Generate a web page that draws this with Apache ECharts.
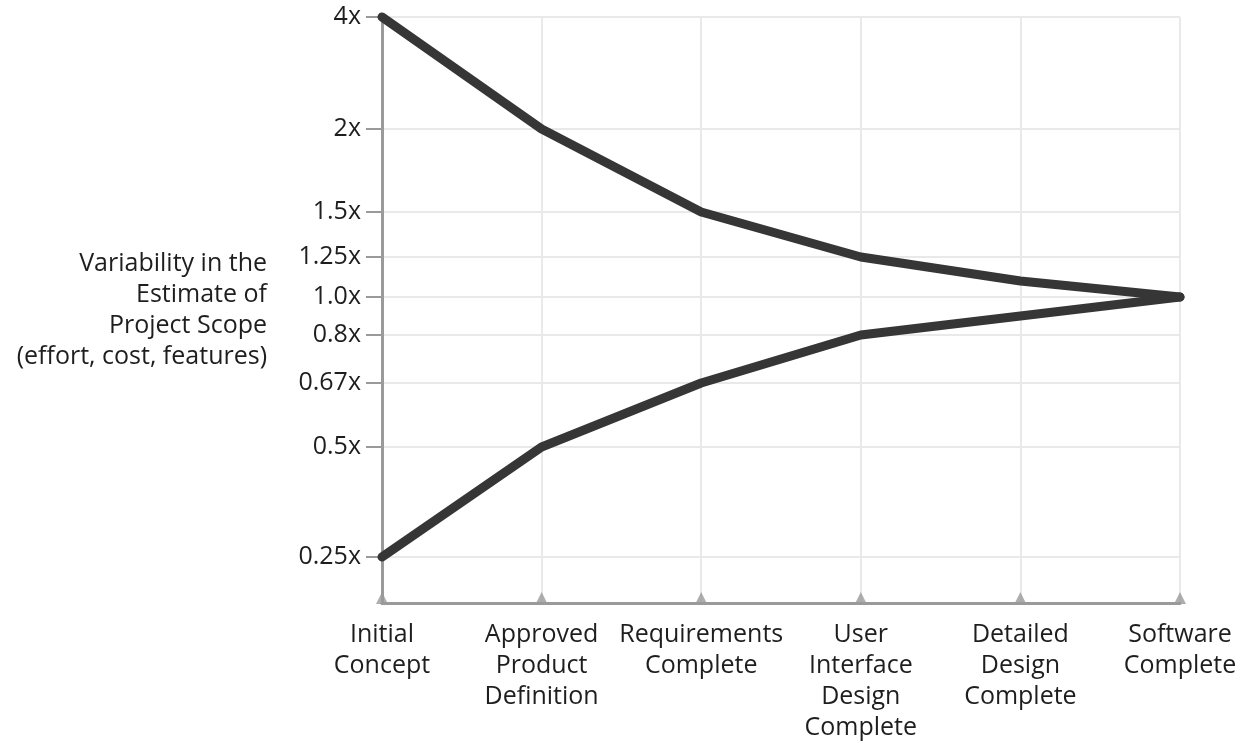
<!DOCTYPE html>
<html>
<head>
<meta charset="utf-8">
<script src="https://cdn.jsdelivr.net/npm/echarts@6/dist/echarts.min.js"></script>
<style>
html,body{margin:0;padding:0;background:#fff;}
#chart{width:1253px;height:745px;}
</style>
</head>
<body>
<div id="chart"></div>
<script>
// Categories (phases)
const categories = [
  'Initial\nConcept',
  'Approved\nProduct\nDefinition',
  'Requirements\nComplete',
  'User\nInterface\nDesign\nComplete',
  'Detailed\nDesign\nComplete',
  'Software\nComplete'
];
// Series values (multipliers of the final estimate)
const upperValues = [4, 2, 1.5, 1.25, 1.1, 1.0];
const lowerValues = [0.25, 0.5, 0.67, 0.8, 0.9, 1.0];
// Tick values and labels of the (non-uniform) vertical scale
const tickValues = [0.25, 0.5, 0.67, 0.8, 1.0, 1.25, 1.5, 2, 4];
const tickLabels = ['0.25x', '0.5x', '0.67x', '0.8x', '1.0x', '1.25x', '1.5x', '2x', '4x'];
// Scale stops: where each tick value sits on the chart's warped vertical scale
const scaleStops = [46, 156, 220, 268, 306, 346, 391, 474, 586];
const scaleMax = 586;

function toScale(v) {
  for (let i = 0; i < tickValues.length - 1; i++) {
    const a = tickValues[i], b = tickValues[i + 1];
    if (v >= a && v <= b) {
      return scaleStops[i] + (v - a) / (b - a) * (scaleStops[i + 1] - scaleStops[i]);
    }
  }
  return v < tickValues[0] ? scaleStops[0] : scaleStops[scaleStops.length - 1];
}

const FONT = '"Open Sans", "Noto Sans", sans-serif';
const TEXT = '#1e1e1e';
const AXIS = '#9a9a9a';
const GRID = '#e9e9e9';
const LINE = '#363636';

const chart = echarts.init(document.getElementById('chart'), null, {renderer: 'canvas'});
chart.setOption({
  animation: false,
  backgroundColor: '#fff',
  grid: {left: 382, right: 73, top: 17, bottom: 142, containLabel: false, outerBoundsMode: 'none'},
  xAxis: {
    type: 'category',
    data: categories,
    boundaryGap: false,
    axisLine: {show: true, lineStyle: {color: AXIS, width: 3}},
    axisTick: {show: false},
    axisLabel: {
      color: TEXT, fontFamily: FONT, fontSize: 25, lineHeight: 31,
      margin: 16, interval: 0, align: 'center'
    },
    splitLine: {show: true, lineStyle: {color: GRID, width: 2}}
  },
  yAxis: {
    type: 'value',
    min: 0,
    max: scaleMax,
    name: 'Variability in the\nEstimate of\nProject Scope\n(effort, cost, features)',
    nameLocation: 'middle',
    nameRotate: 0,
    nameGap: 115,
    nameTextStyle: {
      color: TEXT, fontFamily: FONT, fontSize: 25, lineHeight: 31,
      align: 'right', verticalAlign: 'middle'
    },
    axisLine: {show: true, lineStyle: {color: AXIS, width: 3}},
    axisTick: {show: true, length: 16, customValues: scaleStops, lineStyle: {color: AXIS, width: 2}},
    axisLabel: {
      customValues: scaleStops,
      color: TEXT, fontFamily: FONT, fontSize: 25, margin: 21,
      formatter: function (val) {
        const i = scaleStops.indexOf(Math.round(val));
        return i >= 0 ? tickLabels[i] : '';
      }
    },
    splitLine: {show: true, lineStyle: {color: GRID, width: 2}}
  },
  series: [
    {
      type: 'line',
      data: upperValues.map(toScale),
      symbol: 'none',
      clip: false,
      lineStyle: {color: LINE, width: 9, cap: 'round', join: 'round'},
      z: 3
    },
    {
      type: 'line',
      data: lowerValues.map(toScale),
      symbol: 'none',
      clip: false,
      lineStyle: {color: LINE, width: 9, cap: 'round', join: 'round'},
      z: 3
    },
    {
      type: 'scatter',
      data: categories.map(function (c, i) { return [i, 0]; }),
      symbol: 'triangle',
      symbolSize: [12, 12],
      symbolOffset: [0, -5],
      clip: false,
      silent: true,
      itemStyle: {color: AXIS},
      z: 1
    }
  ]
});
</script>
</body>
</html>
